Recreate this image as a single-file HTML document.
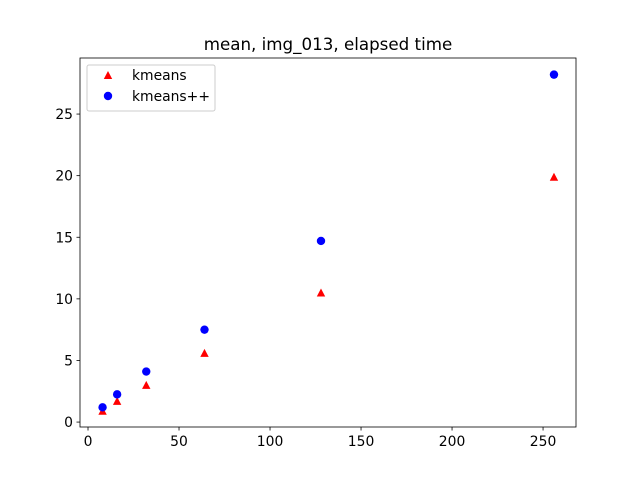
<!DOCTYPE html>
<html><head><meta charset="utf-8"><style>
body{margin:0;background:#fff;}
svg{display:block;font-family:"DejaVu Sans","Liberation Sans",sans-serif;}
</style></head><body>
<svg id="chart" width="640" height="480">
<rect x="0" y="0" width="640" height="480" fill="#fff"/>
<text x="328" y="50" font-size="16.7" text-anchor="middle">mean, img_013, elapsed time</text>
<g id="axes"></g>
<g id="marks"></g>
<rect x="80" y="58" width="496" height="369" fill="none" stroke="#000" stroke-width="0.8"/>
<g>
<rect x="87" y="65" width="128" height="46" rx="2" fill="#fff" fill-opacity="0.8" stroke="#ccc"/>
<g>
<path d="M108,71 L112.2,79 L103.8,79 Z" fill="red"/>
<text x="132" y="80" font-size="13.9">kmeans</text></g>
<g>
<circle cx="108" cy="96" r="4.2" fill="blue"/>
<text x="132" y="101" font-size="13.9">kmeans++</text></g>
</g>
</svg>
<script>
const xValues=[8,16,32,64,128,256];
const kmeansValues=[0.9,1.7,3.0,5.6,10.5,19.9];
const kmeansppValues=[1.2,2.25,4.1,7.5,14.7,28.2];
const xTicks=[0,50,100,150,200,250];
const yTicks=[0,5,10,15,20,25];
const NS="http://www.w3.org/2000/svg";
const L=80,R=576,T=58,B=427,xmin=-4.4,xmax=268.1,ymin=-0.4,ymax=29.55;
function sx(v){return L+(v-xmin)/(xmax-xmin)*(R-L);}
function sy(v){return B-(v-ymin)/(ymax-ymin)*(B-T);}
function mk(tag,attrs,parent){const e=document.createElementNS(NS,tag);for(const k in attrs)e.setAttribute(k,attrs[k]);parent.appendChild(e);return e;}
const axes=document.getElementById('axes'),marks=document.getElementById('marks');
xTicks.forEach(t=>{const x=sx(t);
 const l=mk('line',{x1:x,x2:x,y1:B,y2:B+3.5,stroke:'#000','stroke-width':0.8},axes);
 
 
 const tx=mk('text',{x:x,y:B+19,'font-size':13.9,'text-anchor':'middle'},axes);tx.textContent=t;
 
 });
yTicks.forEach(t=>{const y=sy(t);
 const l=mk('line',{x1:L-3.5,x2:L,y1:y,y2:y,stroke:'#000','stroke-width':0.8},axes);
 
 
 const tx=mk('text',{x:L-7,y:y+5,'font-size':13.9,'text-anchor':'end'},axes);tx.textContent=t;
 
 });
xValues.forEach((xv,i)=>{const x=sx(xv),y=sy(kmeansValues[i]);
 const p=mk('path',{d:`M${x},${y-4.2} L${x+4.2},${y+3.8} L${x-4.2},${y+3.8} Z`,fill:'red'},marks);
 
 });
xValues.forEach((xv,i)=>{const c=mk('circle',{cx:sx(xv),cy:sy(kmeansppValues[i]),r:4.2,fill:'blue'},marks);
 
 });
</script>
</body></html>
